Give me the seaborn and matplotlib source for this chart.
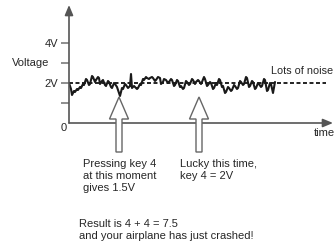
import matplotlib
matplotlib.use("Agg")
import matplotlib.pyplot as plt
import seaborn as sns
import pandas as pd
from matplotlib.patches import FancyArrow

# ---- data ----
times = [0, 2, 3, 5, 6, 8, 9, 11, 12, 14, 15, 17, 18, 20, 21, 23, 24, 26, 27, 29,
         30, 31, 33, 34, 36, 37, 39, 40, 42, 43, 45, 46, 48, 49, 51, 53, 54, 56, 57,
         59, 61, 62, 63, 65, 66, 68, 69, 71, 72, 74, 75, 77, 78, 80, 81, 83, 84, 86,
         87, 89, 91, 92, 94, 95, 97, 99, 100, 102, 103, 105, 106, 108, 109, 111, 112,
         114, 115, 117, 118, 120, 121, 123, 124, 126, 127, 129, 130, 132, 133, 135,
         136, 138, 139, 141, 142, 144, 145, 147, 148, 150, 151, 153, 154, 156, 157,
         159, 160, 162, 163, 165, 166, 168, 169, 171, 172, 174, 175, 177, 178, 180,
         181, 183, 184, 186, 187, 189, 190, 192, 193, 195, 196, 198, 199, 201, 202,
         204, 206]
voltage = [2.0, 1.7, 1.4, 1.6, 1.55, 1.7, 1.65, 1.8, 1.75, 1.95, 1.9, 2.2, 2.15, 1.9,
           1.95, 2.35, 2.3, 2.05, 2.15, 2.3, 2.25, 1.95, 2.1, 2.15, 1.9, 1.85, 2.1, 2.05,
           1.8, 1.75, 2.0, 1.95, 1.8, 1.65, 1.35, 1.75, 1.7, 1.95, 1.9, 1.75, 1.85, 2.45,
           1.75, 1.85, 1.8, 1.7, 1.75, 1.95, 1.9, 2.2, 2.15, 2.3, 2.25, 2.2, 2.25, 2.3,
           2.25, 2.1, 2.15, 2.3, 2.25, 1.95, 2.05, 2.2, 2.15, 2.0, 2.05, 2.2, 2.15, 1.85,
           1.9, 2.15, 2.1, 1.8, 1.85, 1.7, 1.75, 2.1, 2.05, 1.9, 1.95, 2.2, 2.15, 1.95,
           2.05, 2.15, 2.1, 1.95, 2.05, 2.3, 2.2, 1.85, 1.9, 2.05, 2.0, 1.7, 1.75, 2.0,
           1.9, 2.2, 2.15, 1.8, 1.85, 1.5, 1.55, 1.8, 1.75, 1.6, 1.65, 1.9, 1.85, 1.7,
           1.75, 2.1, 2.05, 1.9, 1.95, 2.3, 2.25, 1.8, 1.85, 2.1, 2.05, 1.7, 1.75, 2.0,
           1.95, 1.8, 1.85, 2.2, 2.15, 1.6, 1.65, 2.0, 1.95, 1.5, 2.05]
nominal_level = 2.0
nominal_end = 257
press_times = [50, 130]
press_tip = 1.3
yticks = [1, 2, 3, 4]
ytick_labels = ["", "2V", "", "4V"]

df = pd.DataFrame({"time": times, "voltage": voltage})

sns.set_theme(style="white")
plt.rcParams["font.family"] = ["Liberation Sans", "DejaVu Sans"]

W, H = 336, 244
fig = plt.figure(figsize=(W / 100, H / 100), dpi=100)
fig.patch.set_facecolor("white")
ax = fig.add_axes([69 / W, (H - 123) / H, (333 - 69) / W, (123 - 5) / H])
ax.set_xlim(0, 264)
ax.set_ylim(0, 5.9)
ax.set_facecolor("none")
for s in ax.spines.values():
    s.set_visible(False)

gray = "#707070"
txt = "#262626"

# axes with arrows
for end in [(0, 5.9), (264, 0)]:
    ax.annotate("", xy=end, xytext=(0, 0),
                arrowprops=dict(arrowstyle="-|>,head_length=0.6,head_width=0.25",
                                color="#555555", lw=1.2, shrinkA=0, shrinkB=0,
                                mutation_scale=10), annotation_clip=False)

ax.set_xticks([])
ax.set_yticks(yticks, ytick_labels)
ax.tick_params(axis="y", left=True, length=5.8, width=1.1, color=gray,
               direction="out", pad=2, labelsize=8, labelcolor=txt)

# nominal dashed line
ax.plot([0, nominal_end], [nominal_level, nominal_level], color="#111111",
        lw=1.3, dashes=(2.2, 1.4), clip_on=False)

# noisy signal
sns.lineplot(data=df, x="time", y="voltage", ax=ax, color="#1a1a1a", lw=1.5,
             estimator=None, sort=False)
ax.set_xlabel("")
ax.set_ylabel("")

# hollow arrows marking key presses
bottom = -1.45
for t in press_times:
    arr = FancyArrow(t, bottom, 0, press_tip - bottom, width=6, head_width=19,
                     head_length=1.1, length_includes_head=True,
                     facecolor="white", edgecolor="#666666", lw=1.0,
                     clip_on=False, zorder=5)
    ax.add_patch(arr)

fs = 8
ax.text(-57, 3.0, "Voltage", ha="left", va="center", fontsize=fs, color=txt, clip_on=False)
ax.text(-5, -0.25, "0", ha="center", va="center", fontsize=fs, color=txt, clip_on=False)
ax.text(245, -0.5, "time", ha="left", va="center", fontsize=fs, color=txt, clip_on=False)
ax.text(202, 2.6, "Lots of noise", ha="left", va="center", fontsize=7.8, color=txt, clip_on=False)
ax.text(14, -1.8, "Pressing key 4\nat this moment\ngives 1.5V", ha="left", va="top",
        fontsize=fs, color=txt, linespacing=1.22, clip_on=False)
ax.text(111, -1.8, "Lucky this time,\nkey 4 = 2V", ha="left", va="top",
        fontsize=fs, color=txt, linespacing=1.22, clip_on=False)
ax.text(10, -4.8, "Result is 4 + 4 = 7.5\nand your airplane has just crashed!", ha="left",
        va="top", fontsize=fs, color=txt, linespacing=1.3, clip_on=False)

fig.savefig("out.png", dpi=100, facecolor="white")
